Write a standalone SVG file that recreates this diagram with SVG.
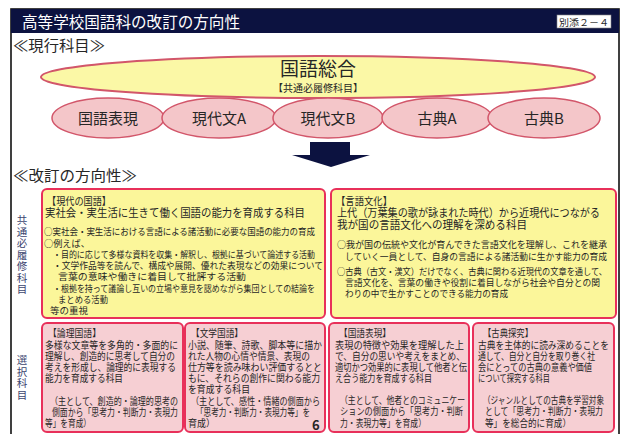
<svg xmlns="http://www.w3.org/2000/svg" width="622" height="434" viewBox="0 0 622 434">
<style>
text { font-family: "Noto Sans CJK JP", "Noto Sans", sans-serif; fill: #262626; }
.w { fill: #ffffff; }
.yb { fill: #fbf69a; stroke: #e8305a; stroke-width: 2; }
.pb { fill: #f6cfd3; stroke: #e8305a; stroke-width: 2; }
.pe { fill: #f4c6c9; stroke: #d2566a; stroke-width: 1.5; }
.ye { fill: #fbf8a6; stroke: #d2566a; stroke-width: 2; }
.lab { fill: #3c4670; font-size: 10.5px; }
.s { font-size: 9.2px; }
.m { font-size: 9.8px; }
.h { font-size: 10.5px; }
.b { font-size: 11.2px; }
</style>
<rect x="0" y="0" width="622" height="434" fill="#ffffff"/>
<g id="frame">
<rect x="11" y="9" width="608" height="430" fill="none" stroke="#111" stroke-width="1.6"/>
<rect x="11" y="9" width="608" height="24" fill="#0c1240"/>
<text class="w" x="22" y="28" font-size="16" textLength="218" lengthAdjust="spacingAndGlyphs">高等学校国語科の改訂の方向性</text>
<rect x="557" y="15" width="54" height="13" fill="#ffffff" stroke="#888" stroke-width="0.6"/>
<text x="559" y="25.5" font-size="9.5" textLength="50" lengthAdjust="spacingAndGlyphs">別添２－４</text>
<text x="13" y="51" font-size="15" textLength="92" lengthAdjust="spacingAndGlyphs">≪現行科目≫</text>
<text x="13" y="181" font-size="15" textLength="124" lengthAdjust="spacingAndGlyphs">≪改訂の方向性≫</text>
</g>
<g id="kokugo-sogo">
<ellipse class="ye" cx="318" cy="77" rx="277" ry="21"/>
<text x="318" y="76" font-size="19" text-anchor="middle">国語総合</text>
<text x="318" y="92" font-size="10" text-anchor="middle">【共通必履修科目】</text>
</g>
<g id="e1"><ellipse class="pe" cx="108" cy="118" rx="56" ry="20"/><text x="108" y="124" font-size="15" text-anchor="middle">国語表現</text></g>
<g id="e2"><ellipse class="pe" cx="219" cy="118" rx="57" ry="20"/><text x="219" y="124" font-size="15" text-anchor="middle">現代文A</text></g>
<g id="e3"><ellipse class="pe" cx="328" cy="118" rx="55" ry="20"/><text x="328" y="124" font-size="15" text-anchor="middle">現代文B</text></g>
<g id="e4"><ellipse class="pe" cx="437" cy="118" rx="55" ry="20"/><text x="437" y="124" font-size="15" text-anchor="middle">古典A</text></g>
<g id="e5"><ellipse class="pe" cx="544" cy="118" rx="56" ry="20"/><text x="544" y="124" font-size="15" text-anchor="middle">古典B</text></g>
<g id="connectors">
<polygon points="310,142 350,142 350,155 370,155 331,167 292,155 310,155" fill="#0c1240"/>
</g>
<g id="labels">
<text class="lab" text-anchor="middle"><tspan x="22" y="224">共</tspan><tspan x="22" y="235.5">通</tspan><tspan x="22" y="247">必</tspan><tspan x="22" y="258.5">履</tspan><tspan x="22" y="270">修</tspan><tspan x="22" y="281.5">科</tspan><tspan x="22" y="293">目</tspan></text>
<text class="lab" text-anchor="middle"><tspan x="22" y="364">選</tspan><tspan x="22" y="375.5">択</tspan><tspan x="22" y="387">科</tspan><tspan x="22" y="398.5">目</tspan></text>
</g>
<g id="gendai">
<rect class="yb" x="42" y="189" width="283" height="129" rx="5"/>
<text class="h" x="47" y="205" textLength="64" lengthAdjust="spacingAndGlyphs">【現代の国語】</text>
<text class="b" x="45" y="217" textLength="260" lengthAdjust="spacingAndGlyphs">実社会・実生活に生きて働く国語の能力を育成する科目</text>
<text class="s" x="44" y="235" textLength="271" lengthAdjust="spacingAndGlyphs">○実社会・実生活における言語による諸活動に必要な国語の能力の育成</text>
<text class="s" x="44" y="247">○例えば、</text>
<text class="s" x="53" y="258" textLength="262" lengthAdjust="spacingAndGlyphs">・目的に応じて多様な資料を収集・解釈し、根拠に基づいて論述する活動</text>
<text class="s" x="53" y="269" textLength="270" lengthAdjust="spacingAndGlyphs">・文学作品等を読んで、構成や展開、優れた表現などの効果について</text>
<text class="s" x="58" y="280" textLength="188" lengthAdjust="spacingAndGlyphs">言葉の意味や働きに着目して批評する活動</text>
<text class="s" x="53" y="292" textLength="262" lengthAdjust="spacingAndGlyphs">・根拠を持って議論し互いの立場や意見を認めながら集団としての結論を</text>
<text class="s" x="58" y="303" textLength="50" lengthAdjust="spacingAndGlyphs">まとめる活動</text>
<text class="s" x="50" y="314" textLength="38" lengthAdjust="spacingAndGlyphs">等の重視</text>
</g>
<g id="gengo">
<rect class="yb" x="331" y="189" width="285" height="129" rx="5"/>
<text class="h" x="336" y="205" textLength="56" lengthAdjust="spacingAndGlyphs">【言語文化】</text>
<text class="b" x="337" y="217" textLength="263" lengthAdjust="spacingAndGlyphs">上代（万葉集の歌が詠まれた時代）から近現代につながる</text>
<text class="b" x="337" y="229" textLength="190" lengthAdjust="spacingAndGlyphs">我が国の言語文化への理解を深める科目</text>
<text class="s" x="337" y="248" textLength="270" lengthAdjust="spacingAndGlyphs">○我が国の伝統や文化が育んできた言語文化を理解し、これを継承</text>
<text class="s" x="345" y="260" textLength="262" lengthAdjust="spacingAndGlyphs">していく一員として、自身の言語による諸活動に生かす能力の育成</text>
<text class="s" x="337" y="275" textLength="270" lengthAdjust="spacingAndGlyphs">○古典（古文・漢文）だけでなく、古典に関わる近現代の文章を通して、</text>
<text class="s" x="345" y="286" textLength="255" lengthAdjust="spacingAndGlyphs">言語文化を、言葉の働きや役割に着目しながら社会や自分との関</text>
<text class="s" x="345" y="297" textLength="163" lengthAdjust="spacingAndGlyphs">わりの中で生かすことのできる能力の育成</text>
</g>
<g id="ronri">
<rect class="pb" x="42" y="323" width="141" height="109" rx="5"/>
<text class="m" x="48" y="337" textLength="53" lengthAdjust="spacingAndGlyphs">【論理国語】</text>
<text class="m" x="45" y="349" textLength="133" lengthAdjust="spacingAndGlyphs">多様な文章等を多角的・多面的に</text>
<text class="m" x="45" y="360" textLength="130" lengthAdjust="spacingAndGlyphs">理解し、創造的に思考して自分の</text>
<text class="m" x="45" y="371" textLength="131" lengthAdjust="spacingAndGlyphs">考えを形成し、論理的に表現する</text>
<text class="m" x="45" y="382" textLength="78" lengthAdjust="spacingAndGlyphs">能力を育成する科目</text>
<text class="m" x="50" y="405" textLength="128" lengthAdjust="spacingAndGlyphs">（主として、創造的・論理的思考の</text>
<text class="m" x="52" y="416" textLength="126" lengthAdjust="spacingAndGlyphs">側面から「思考力・判断力・表現力</text>
<text class="m" x="45" y="427" textLength="46" lengthAdjust="spacingAndGlyphs">等」を育成）</text>
</g>
<g id="bungaku">
<rect class="pb" x="185" y="323" width="140" height="109" rx="5"/>
<text class="m" x="191" y="337" textLength="52" lengthAdjust="spacingAndGlyphs">【文学国語】</text>
<text class="m" x="188" y="349" textLength="134" lengthAdjust="spacingAndGlyphs">小説、随筆、詩歌、脚本等に描か</text>
<text class="m" x="188" y="360" textLength="122" lengthAdjust="spacingAndGlyphs">れた人物の心情や情景、表現の</text>
<text class="m" x="188" y="371" textLength="134" lengthAdjust="spacingAndGlyphs">仕方等を読み味わい評価するとと</text>
<text class="m" x="188" y="382" textLength="132" lengthAdjust="spacingAndGlyphs">もに、それらの創作に関わる能力</text>
<text class="m" x="188" y="393" textLength="62" lengthAdjust="spacingAndGlyphs">を育成する科目</text>
<text class="m" x="191" y="405" textLength="129" lengthAdjust="spacingAndGlyphs">（主として、感性・情緒の側面から</text>
<text class="m" x="196" y="416" textLength="114" lengthAdjust="spacingAndGlyphs">「思考力・判断力・表現力等」を</text>
<text class="m" x="188" y="427" textLength="27" lengthAdjust="spacingAndGlyphs">育成）</text>
<text x="312" y="430" font-size="13" font-weight="bold" font-family="Liberation Sans, sans-serif" fill="#111">6</text>
</g>
<g id="hyogen">
<rect class="pb" x="329" y="323" width="140" height="109" rx="5"/>
<text class="m" x="339" y="337" textLength="52" lengthAdjust="spacingAndGlyphs">【国語表現】</text>
<text class="m" x="335" y="349" textLength="129" lengthAdjust="spacingAndGlyphs">表現の特徴や効果を理解した上</text>
<text class="m" x="335" y="360" textLength="130" lengthAdjust="spacingAndGlyphs">で、自分の思いや考えをまとめ、</text>
<text class="m" x="335" y="371" textLength="132" lengthAdjust="spacingAndGlyphs">適切かつ効果的に表現して他者と伝</text>
<text class="m" x="335" y="382" textLength="97" lengthAdjust="spacingAndGlyphs">え合う能力を育成する科目</text>
<text class="m" x="340" y="404" textLength="125" lengthAdjust="spacingAndGlyphs">（主として、他者とのコミュニケー</text>
<text class="m" x="340" y="415" textLength="123" lengthAdjust="spacingAndGlyphs">ションの側面から「思考力・判断</text>
<text class="m" x="340" y="427" textLength="86" lengthAdjust="spacingAndGlyphs">力・表現力等」を育成）</text>
</g>
<g id="koten">
<rect class="pb" x="473" y="323" width="141" height="109" rx="5"/>
<text class="m" x="483" y="337" textLength="50" lengthAdjust="spacingAndGlyphs">【古典探究】</text>
<text class="m" x="478" y="349" textLength="131" lengthAdjust="spacingAndGlyphs">古典を主体的に読み深めることを</text>
<text class="m" x="478" y="360" textLength="117" lengthAdjust="spacingAndGlyphs">通して、自分と自分を取り巻く社</text>
<text class="m" x="478" y="371" textLength="114" lengthAdjust="spacingAndGlyphs">会にとっての古典の意義や価値</text>
<text class="m" x="478" y="382" textLength="72" lengthAdjust="spacingAndGlyphs">について探究する科目</text>
<text class="m" x="483" y="404" textLength="121" lengthAdjust="spacingAndGlyphs">（ジャンルとしての古典を学習対象</text>
<text class="m" x="485" y="415" textLength="118" lengthAdjust="spacingAndGlyphs">として「思考力・判断力・表現力</text>
<text class="m" x="485" y="427" textLength="86" lengthAdjust="spacingAndGlyphs">等」を総合的に育成）</text>
</g>
</svg>
